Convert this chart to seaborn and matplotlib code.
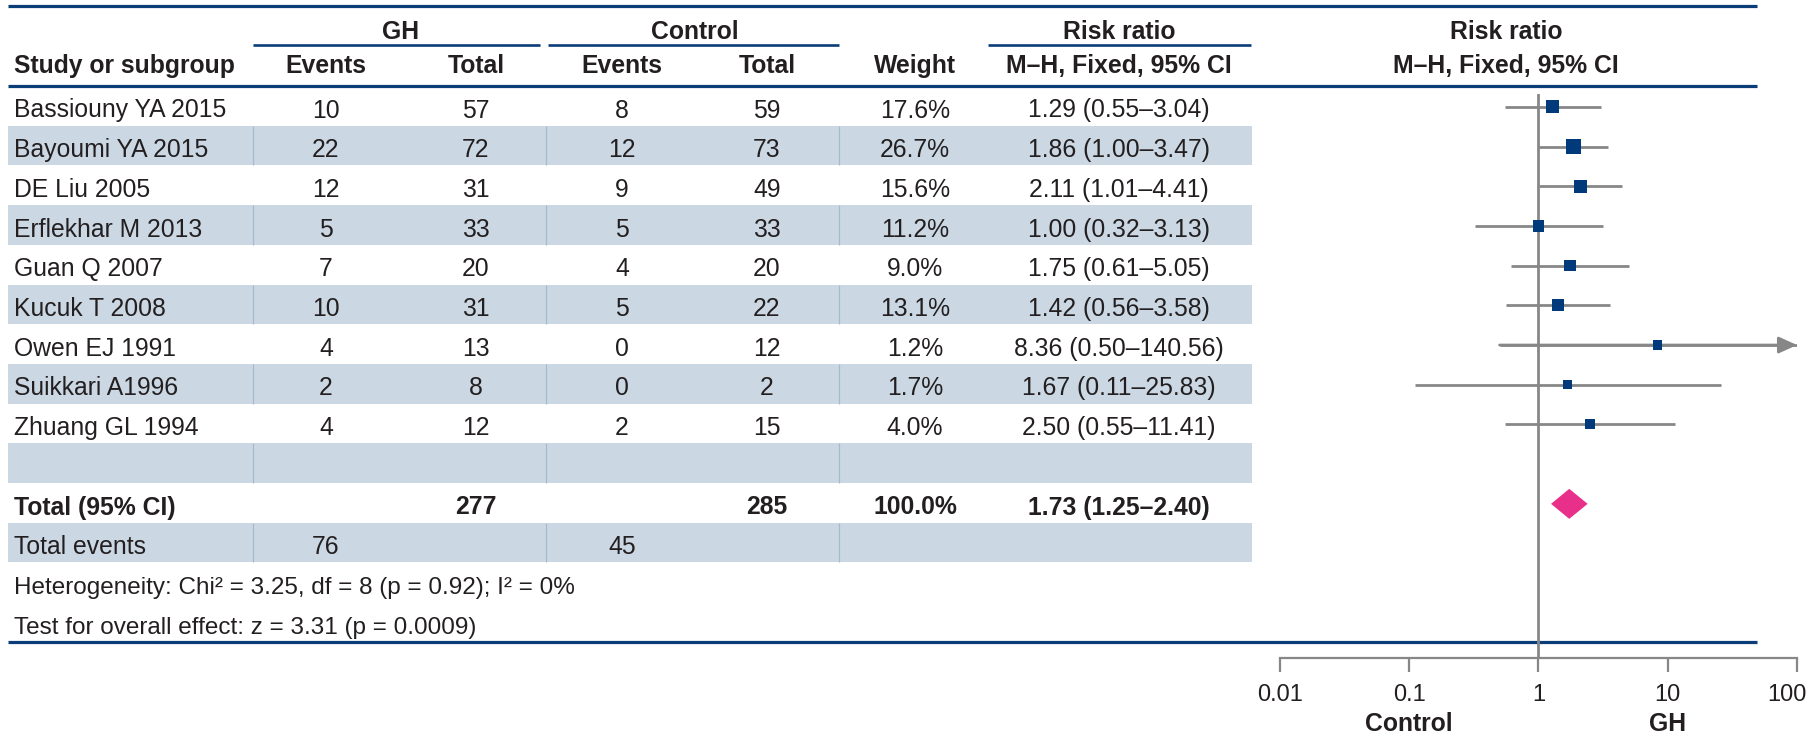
import numpy as np
import pandas as pd
import matplotlib
matplotlib.use("Agg")
import matplotlib.pyplot as plt
import matplotlib.transforms as mtransforms
from matplotlib.patches import Rectangle, Polygon
from matplotlib.ticker import NullLocator
import seaborn as sns

# ---- data -------------------------------------------------------------
studies = ["Bassiouny YA 2015", "Bayoumi YA 2015", "DE Liu 2005", "Erflekhar M 2013",
           "Guan Q 2007", "Kucuk T 2008", "Owen EJ 1991", "Suikkari A1996", "Zhuang GL 1994"]
gh_events = [10, 22, 12, 5, 7, 10, 4, 2, 4]
gh_total = [57, 72, 31, 33, 20, 31, 13, 8, 12]
ctrl_events = [8, 12, 9, 5, 4, 5, 0, 0, 2]
ctrl_total = [59, 73, 49, 33, 20, 22, 12, 2, 15]
weights = [17.6, 26.7, 15.6, 11.2, 9.0, 13.1, 1.2, 1.7, 4.0]
rr = [1.29, 1.86, 2.11, 1.00, 1.75, 1.42, 8.36, 1.67, 2.50]
ci_low = [0.55, 1.00, 1.01, 0.32, 0.61, 0.56, 0.50, 0.11, 0.55]
ci_high = [3.04, 3.47, 4.41, 3.13, 5.05, 3.58, 140.56, 25.83, 11.41]

total_gh = 277
total_ctrl = 285
total_events_gh = 76
total_events_ctrl = 45
total_weight = 100.0
total_rr = 1.73
total_low = 1.25
total_high = 2.40

heterogeneity = "Heterogeneity: Chi² = 3.25, df = 8 (p = 0.92); I² = 0%"
overall_effect = "Test for overall effect: z = 3.31 (p = 0.0009)"

axis_ticks = [0.01, 0.1, 1, 10, 100]
axis_tick_labels = ["0.01", "0.1", "1", "10", "100"]
favours = ["Control", "GH"]
favours_at = [0.1, 10]

# ---- style ------------------------------------------------------------
sns.set_theme(style="white")
plt.rcParams["font.family"] = ["Liberation Sans", "DejaVu Sans"]

NAVY = "#0b3d78"
SQUARE = "#003a7a"
BAND = "#cbd8e4"
SEP = "#a6bace"
GREY = "#878787"
TXT = "#231f20"
PINK = "#e8308a"
FS = 17.8
FS_NOTE = 17.5
FS_TICK = 17

W, H = 1808, 734
ROW_TOP = 86.0
ROW_H = 39.7
TABLE_LEFT, TABLE_RIGHT = 8, 1252
RULE_RIGHT = 1757
TEXT_LEFT = 14
COL_GH_EV, COL_GH_TOT = 326, 476
COL_C_EV, COL_C_TOT = 622, 767
COL_WEIGHT, COL_RR = 915, 1119
SEPARATORS = [253, 546, 839]
PLOT_LEFT, PLOT_RIGHT = 1280, 1797
PLOT_TOP, PLOT_BOTTOM = 94, 658
PANEL_CENTER = 1506
TICK_BASELINE = 701
FAVOURS_BASELINE = 731


def row_top(i):
    return ROW_TOP + i * ROW_H


def row_mid(i):
    return ROW_TOP + (i + 0.5) * ROW_H


def baseline(i):
    return row_top(i) + 31.5


fig = plt.figure(figsize=(W / 100, H / 100), dpi=100)

# table canvas in pixel units
ax_t = fig.add_axes([0, 0, 1, 1])
ax_t.set_xlim(0, W)
ax_t.set_ylim(H, 0)
ax_t.axis("off")

n = len(studies)
EMPTY, TOTAL, EVENTS, HET, TEST = n, n + 1, n + 2, n + 3, n + 4

# shaded bands with their column separators
for i in range(1, EVENTS + 1, 2):
    ax_t.add_patch(Rectangle((TABLE_LEFT, row_top(i)), TABLE_RIGHT - TABLE_LEFT, ROW_H,
                             facecolor=BAND, edgecolor="none", zorder=0))
    ax_t.vlines(SEPARATORS, row_top(i), row_top(i) + ROW_H, color=SEP, lw=0.9, zorder=1)

# horizontal rules
ax_t.hlines([6, ROW_TOP, row_top(TEST + 1)], TABLE_LEFT, RULE_RIGHT, color=NAVY, lw=2.3, zorder=2)
for x0, x1 in [(253, 540), (548, 839), (988, 1251)]:
    ax_t.hlines(45, x0, x1, color=NAVY, lw=1.9, zorder=2)


def put(x, y, s, ha="center", bold=False, size=FS):
    ax_t.text(x, y, s, ha=ha, va="baseline", fontsize=size, color=TXT,
              fontweight="bold" if bold else "normal", zorder=3)


# header
put((COL_GH_EV + COL_GH_TOT) / 2, 39, "GH", bold=True)
put((COL_C_EV + COL_C_TOT) / 2, 39, "Control", bold=True)
put(COL_RR, 39, "Risk ratio", bold=True)
put(PANEL_CENTER, 39, "Risk ratio", bold=True)
put(TEXT_LEFT, 73, "Study or subgroup", ha="left", bold=True)
put(COL_GH_EV, 73, "Events", bold=True)
put(COL_GH_TOT, 73, "Total", bold=True)
put(COL_C_EV, 73, "Events", bold=True)
put(COL_C_TOT, 73, "Total", bold=True)
put(COL_WEIGHT, 73, "Weight", bold=True)
put(COL_RR, 73, "M\u2013H, Fixed, 95% CI", bold=True)
put(PANEL_CENTER, 73, "M\u2013H, Fixed, 95% CI", bold=True)

# study rows
for i in range(n):
    y = baseline(i)
    put(TEXT_LEFT, y, studies[i], ha="left")
    put(COL_GH_EV, y, str(gh_events[i]))
    put(COL_GH_TOT, y, str(gh_total[i]))
    put(COL_C_EV, y, str(ctrl_events[i]))
    put(COL_C_TOT, y, str(ctrl_total[i]))
    put(COL_WEIGHT, y, f"{weights[i]:.1f}%")
    put(COL_RR, y, f"{rr[i]:.2f} ({ci_low[i]:.2f}\u2013{ci_high[i]:.2f})")

# totals
y = baseline(TOTAL)
put(TEXT_LEFT, y, "Total (95% CI)", ha="left", bold=True)
put(COL_GH_TOT, y, str(total_gh), bold=True)
put(COL_C_TOT, y, str(total_ctrl), bold=True)
put(COL_WEIGHT, y, f"{total_weight:.1f}%", bold=True)
put(COL_RR, y, f"{total_rr:.2f} ({total_low:.2f}\u2013{total_high:.2f})", bold=True)

y = baseline(EVENTS)
put(TEXT_LEFT, y, "Total events", ha="left")
put(COL_GH_EV, y, str(total_events_gh))
put(COL_C_EV, y, str(total_events_ctrl))

put(TEXT_LEFT, baseline(HET), heterogeneity, ha="left", size=FS_NOTE)
put(TEXT_LEFT, baseline(TEST), overall_effect, ha="left", size=FS_NOTE)

# ---- forest panel -------------------------------------------------------
ax_f = fig.add_axes([PLOT_LEFT / W, 1 - PLOT_BOTTOM / H,
                     (PLOT_RIGHT - PLOT_LEFT) / W, (PLOT_BOTTOM - PLOT_TOP) / H])
ax_f.set_facecolor("none")
ax_f.set_xscale("log")
XMIN, XMAX = axis_ticks[0], axis_ticks[-1]
ax_f.set_xlim(XMIN, XMAX)
ax_f.set_ylim(PLOT_BOTTOM, PLOT_TOP)

ys = [row_mid(i) + 1 for i in range(n)]
ax_f.axvline(1, color=GREY, lw=2.0, zorder=1)

hi_clip = np.minimum(ci_high, XMAX)
ax_f.hlines(ys, ci_low, hi_clip, color=GREY, lw=2.0, zorder=2)
for lo, hi, yy in zip(ci_low, ci_high, ys):
    if hi > XMAX:
        ax_f.annotate("", xy=(XMAX, yy), xytext=(lo, yy),
                      arrowprops=dict(arrowstyle="-|>,head_length=1.1,head_width=0.5",
                                      color=GREY, lw=2.0, shrinkA=0, shrinkB=0,
                                      mutation_scale=10), zorder=2)

df = pd.DataFrame({"rr": rr, "y": ys, "weight": weights})
sns.scatterplot(data=df, x="rr", y="y", size="weight", sizes=(45, 110),
                size_norm=(min(weights), max(weights)), marker="s", color=SQUARE,
                linewidth=0, legend=False, ax=ax_f, zorder=4)

ty = row_mid(TOTAL) + 1
half_h = 15
ax_f.add_patch(Polygon([(total_low, ty), (total_rr, ty - half_h), (total_high, ty),
                        (total_rr, ty + half_h)], closed=True, facecolor=PINK,
                       edgecolor="none", zorder=4))

ax_f.set_xlabel("")
ax_f.set_ylabel("")
ax_f.set_yticks([])
ax_f.set_xticks(axis_ticks, labels=[""] * len(axis_ticks))
ax_f.xaxis.set_minor_locator(NullLocator())
ax_f.tick_params(axis="x", direction="out", length=10, width=1.6, color=GREY, bottom=True)
for side in ["top", "left", "right"]:
    ax_f.spines[side].set_visible(False)
ax_f.spines["bottom"].set_color(GREY)
ax_f.spines["bottom"].set_linewidth(1.6)

# tick values and favours labels under the axis (x in data units, y in pixels)
blend = mtransforms.blended_transform_factory(ax_f.transData, ax_t.transData)
for k, (tv, tl) in enumerate(zip(axis_ticks, axis_tick_labels)):
    tr = blend
    if k == len(axis_ticks) - 1:
        tr = blend + mtransforms.ScaledTranslation(-10 / 100, 0, fig.dpi_scale_trans)
    ax_f.text(tv, TICK_BASELINE, tl, transform=tr, ha="center", va="baseline",
              fontsize=FS_TICK, color=TXT, clip_on=False)
for lab, at in zip(favours, favours_at):
    ax_f.text(at, FAVOURS_BASELINE, lab, transform=blend, ha="center", va="baseline",
              fontsize=FS, fontweight="bold", color=TXT, clip_on=False)

fig.savefig("out.png", dpi=100)
